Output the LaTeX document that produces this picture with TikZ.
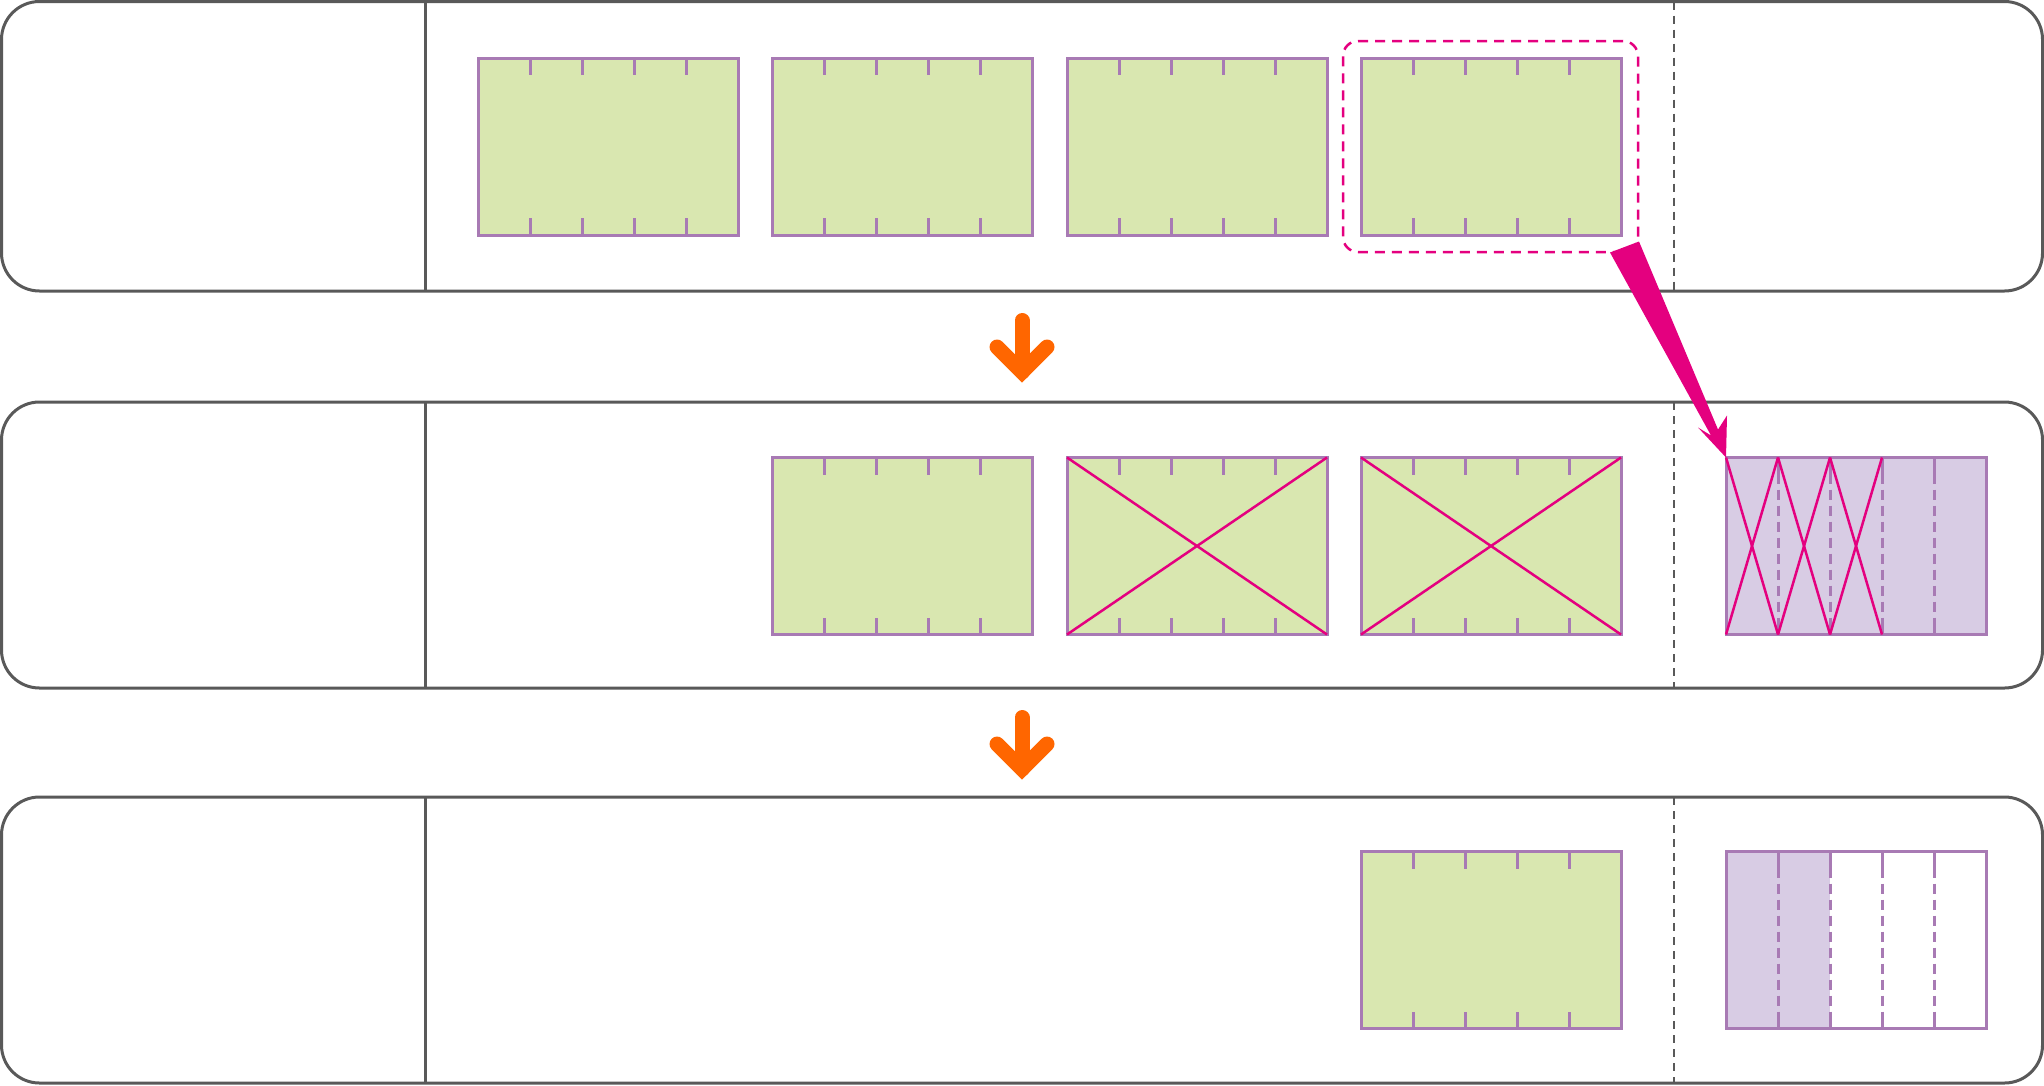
\documentclass[tikz,border=0pt]{standalone}
\usetikzlibrary{calc}
\definecolor{rowgray}{HTML}{595959}
\definecolor{gfill}{HTML}{D9E7B0}
\definecolor{pline}{HTML}{A87AB4}
\definecolor{pfill}{HTML}{D8CCE4}
\definecolor{pinkc}{HTML}{E4007F}
\definecolor{orng}{HTML}{FF6600}
\tikzset{
  rowbox/.style={draw=rowgray, line width=3pt, rounded corners=38pt, minimum width=2041pt, inner sep=0pt, outer sep=0pt},
  blk/.style={draw=pline, line width=3pt, minimum width=260pt, minimum height=177pt, inner sep=0pt, outer sep=0pt},
  grn/.style={blk, fill=gfill},
  prp/.style={blk, fill=pfill},
  tickln/.style={draw=pline, line width=3pt},
  dashln/.style={draw=pline, line width=3pt, dash pattern=on 10pt off 6pt},
  divln/.style={draw=rowgray, line width=3pt},
  gdash/.style={draw=rowgray, line width=2.5pt, dash pattern=on 8pt off 6pt},
  pinkln/.style={draw=pinkc, line width=2.5pt},
  selbox/.style={draw=pinkc, line width=2.5pt, dash pattern=on 10pt off 7pt, rounded corners=15pt},
  downarrow/.style={draw=orng, line width=15pt, line cap=round, line join=miter}
}
\newcommand\blkticks[1]{%
  \foreach \k in {1,...,4}{%
    \draw[tickln] ($(#1.north west)+(52*\k,0)$) -- ++(0,17);
    \draw[tickln] ($(#1.south west)+(52*\k,0)$) -- ++(0,-17);
  }}
\newcommand\blkdashes[1]{%
  \foreach \k in {1,...,4}{%
    \draw[dashln] ($(#1.north west)+(52*\k,0)$) -- ($(#1.south west)+(52*\k,0)$);
  }}
\begin{document}
\begin{tikzpicture}[x=1pt,y=-1pt]
\useasboundingbox (0,0) rectangle (2044,1085);
% rows
\node[rowbox, minimum height=289.5pt] (row1) at (1022,146.25) {};
\node[rowbox, minimum height=286pt] (row2) at (1022,545) {};
\node[rowbox, minimum height=286pt] (row3) at (1022,940) {};
% dividers
\draw[divln] (425,1.5) -- (425,291);
\draw[divln] (425,402) -- (425,688);
\draw[divln] (425,797) -- (425,1083);
\draw[gdash] (1674,1.5) -- (1674,291);
\draw[gdash] (1674,402) -- (1674,688);
\draw[gdash] (1674,797) -- (1674,1083);
% row 1
\node[grn] (a1) at (608,146.5) {};
\node[grn] (a2) at (902,146.5) {};
\node[grn] (a3) at (1197,146.5) {};
\node[grn] (a4) at (1491,146.5) {};
\foreach \n in {a1,a2,a3,a4}{\blkticks{\n}}
\node[selbox, minimum width=295pt, minimum height=211pt, inner sep=0pt] (sel) at (1490.5,146.5) {};
% row 2
\node[grn] (b1) at (902,546) {};
\node[grn] (b2) at (1197,546) {};
\node[grn] (b3) at (1491,546) {};
\foreach \n in {b1,b2,b3}{\blkticks{\n}}
\foreach \n in {b2,b3}{\draw[pinkln] (\n.north west) -- (\n.south east) (\n.south west) -- (\n.north east);}
\node[prp] (p2) at (1856,546) {};
\blkdashes{p2}
\blkticks{p2}
\foreach \k in {0,1,2}{%
  \draw[pinkln] ($(p2.north west)+(52*\k,0)$) -- ($(p2.south west)+(52*\k+52,0)$);
  \draw[pinkln] ($(p2.south west)+(52*\k,0)$) -- ($(p2.north west)+(52*\k+52,0)$);
}
% row 3
\node[grn] (c1) at (1491,940) {};
\blkticks{c1}
\node[blk] (p3) at (1856,940) {};
\fill[pfill] (p3.north west) rectangle ($(p3.south west)+(104,0)$);
\draw[pline, line width=3pt] (p3.north west) rectangle (p3.south east);
\blkdashes{p3}
\blkticks{p3}
% orange arrows
\draw[downarrow] ($(row1.south)+(0,29.5)$) -- ($(row1.south)+(0,81)$);
\draw[downarrow] ($(row1.south)+(-25,56)$) -- ($(row1.south)+(0,81)$) -- ($(row1.south)+(25,56)$);
\draw[downarrow] ($(row2.south)+(0,29.5)$) -- ($(row2.south)+(0,81)$);
\draw[downarrow] ($(row2.south)+(-25,56)$) -- ($(row2.south)+(0,81)$) -- ($(row2.south)+(25,56)$);
% pink wedge arrow from selection to purple block
\coordinate (tip) at (p2.north west);
\fill[pinkc] ($(tip)+(-116,-205)$) -- ($(tip)+(-87,-216)$) -- ($(tip)+(-8,-28)$) -- ($(tip)+(1,-42)$) -- (tip) -- ($(tip)+(-28,-30)$) -- ($(tip)+(-15,-22)$) -- cycle;
\end{tikzpicture}
\end{document}
